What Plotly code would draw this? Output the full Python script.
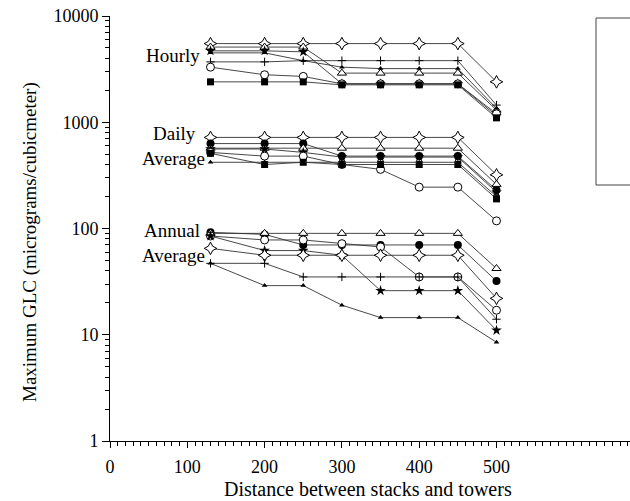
import plotly.graph_objects as go

# Distance between stacks and towers
distance = [130, 200, 250, 300, 350, 400, 450, 500]

# Hourly maximum GLC
hourly_diamond = [5500, 5500, 5500, 5500, 5500, 5500, 5500, 2400]
hourly_triangle = [5100, 5100, 5100, 2900, 2900, 2900, 2900, 1300]
hourly_star = [4700, 4700, 4600, 2300, 2300, 2300, 2300, 1150]
hourly_small = [4500, 4500, 3800, 3300, 3200, 3200, 3200, 1350]
hourly_plus = [3700, 3700, 3800, 3800, 3800, 3800, 3800, 1450]
hourly_circle = [3300, 2800, 2700, 2300, 2300, 2300, 2300, 1200]
hourly_square = [2400, 2400, 2400, 2250, 2250, 2250, 2250, 1100]

# Daily average maximum GLC
daily_diamond = [720, 720, 720, 720, 720, 720, 720, 320]
daily_fcircle = [630, 630, 630, 480, 480, 480, 480, 230]
daily_triangle = [570, 570, 570, 570, 570, 570, 570, 260]
daily_star = [560, 560, 520, 470, 470, 470, 470, 220]
daily_circle = [520, 480, 480, 400, 360, 245, 245, 118]
daily_square = [510, 400, 420, 400, 400, 400, 400, 190]
daily_small = [420, 420, 420, 420, 420, 420, 420, 200]

# Annual average maximum GLC
annual_fcircle = [92, 88, 70, 70, 70, 70, 70, 32]
annual_triangle = [90, 90, 90, 90, 90, 90, 90, 42]
annual_circle = [85, 78, 78, 72, 67, 35, 35, 17]
annual_star = [85, 62, 62, 56, 26, 26, 26, 11]
annual_diamond = [65, 56, 56, 56, 56, 56, 56, 22]
annual_plus = [47, 47, 35, 35, 35, 35, 35, 14]
annual_small = [47, 29, 29, 19, 14.5, 14.5, 14.5, 8.5]

x_ticks = [0, 100, 200, 300, 400, 500]
y_ticks = [1, 10, 100, 1000, 10000]
y_ticktext = ["1", "10", "100", "1000", "10000"]

styles = {
    "diamond": dict(symbol="star-diamond", color="white", size=9, line=dict(color="black", width=1)),
    "triangle": dict(symbol="triangle-up", color="white", size=8, line=dict(color="black", width=1)),
    "star": dict(symbol="star", color="black", size=8, line=dict(color="black", width=0)),
    "small": dict(symbol="triangle-up", color="black", size=5, line=dict(color="black", width=0)),
    "plus": dict(symbol="cross-thin-open", color="black", size=6, line=dict(color="black", width=1)),
    "circle": dict(symbol="circle", color="white", size=8, line=dict(color="black", width=1)),
    "square": dict(symbol="square", color="black", size=7, line=dict(color="black", width=0)),
    "fcircle": dict(symbol="circle", color="black", size=8, line=dict(color="black", width=0)),
}

series = [
    (hourly_diamond, "diamond"), (hourly_triangle, "triangle"), (hourly_star, "star"),
    (hourly_small, "small"), (hourly_plus, "plus"), (hourly_circle, "circle"),
    (hourly_square, "square"),
    (daily_diamond, "diamond"), (daily_fcircle, "fcircle"), (daily_triangle, "triangle"),
    (daily_star, "star"), (daily_circle, "circle"), (daily_square, "square"),
    (daily_small, "small"),
    (annual_fcircle, "fcircle"), (annual_triangle, "triangle"), (annual_circle, "circle"),
    (annual_star, "star"), (annual_diamond, "diamond"), (annual_plus, "plus"),
    (annual_small, "small"),
]

fig = go.Figure()
for vals, st in series:
    fig.add_trace(go.Scatter(
        x=distance, y=vals, mode="lines+markers",
        line=dict(color="#333333", width=0.9),
        marker=styles[st], showlegend=False, cliponaxis=False,
    ))

FONT = "Liberation Serif"

# plot area in pixels: x 110..630, y 16..441
def px(xp):
    return (xp - 110) / 520.0

def py(yp):
    return (441 - yp) / 425.0

labels = [("Hourly", 173, 55), ("Daily", 174, 133), ("Average", 173, 158),
          ("Annual", 172, 230), ("Average", 173, 255)]
for txt, xp, yp in labels:
    fig.add_annotation(text=txt, x=px(xp), y=py(yp), xref="paper", yref="paper",
                       showarrow=False, font=dict(family=FONT, size=19, color="black"),
                       xanchor="center", yanchor="middle")

# axis titles
fig.add_annotation(text="Maximum GLC (micrograms/cubicmeter)", x=px(30), y=py(242),
                   xref="paper", yref="paper", showarrow=False, textangle=-90,
                   font=dict(family=FONT, size=19, color="black"),
                   xanchor="center", yanchor="middle")
fig.add_annotation(text="Distance between stacks and towers", x=px(368), y=py(489),
                   xref="paper", yref="paper", showarrow=False,
                   font=dict(family=FONT, size=20, color="black"),
                   xanchor="center", yanchor="middle")

# clipped legend frame on the right
fig.add_shape(type="rect", xref="paper", yref="paper",
              x0=px(596), x1=px(660), y0=py(185), y1=py(18),
              line=dict(color="#444444", width=1), fillcolor="rgba(0,0,0,0)")

fig.update_layout(
    width=630, height=501,
    margin=dict(l=110, r=0, t=16, b=60),
    paper_bgcolor="white", plot_bgcolor="white",
    font=dict(family=FONT, size=18, color="black"),
    xaxis=dict(
        range=[0, 520 / 0.773], tickvals=x_ticks, ticktext=[str(v) for v in x_ticks],
        showline=True, linecolor="black", linewidth=1, showgrid=False, zeroline=False,
        ticks="outside", ticklen=6, tickcolor="black", ticklabelstandoff=3,
        minor=dict(dtick=10, ticks="outside", ticklen=4, tickcolor="black", showgrid=False),
    ),
    yaxis=dict(
        type="log", range=[0, 4], tickvals=y_ticks, ticktext=y_ticktext,
        showline=True, linecolor="black", linewidth=1, showgrid=False, zeroline=False,
        ticks="outside", ticklen=7, tickcolor="black",
        minor=dict(dtick="D1", ticks="outside", ticklen=4, tickcolor="black", showgrid=False),
    ),
)

fig.write_html("out.html")
